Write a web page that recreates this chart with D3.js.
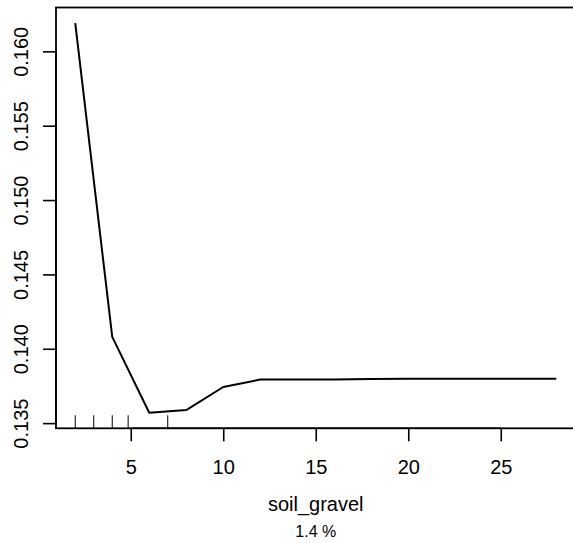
<!DOCTYPE html>
<html>
<head>
<meta charset="utf-8">
<script src="https://cdn.jsdelivr.net/npm/d3@7"></script>
<style>
  html, body { margin: 0; padding: 0; background: #fff; }
  svg { display: block; font-family: "Liberation Sans", Arial, sans-serif; }
</style>
</head>
<body>
<svg id="chart" width="573" height="543"></svg>
<script>
// ---- data ----
const xValues = [2, 4, 6, 8, 10, 12, 14, 16, 18, 20, 22, 24, 26, 28];
const yValues = [0.1619, 0.1408, 0.1357, 0.13588, 0.13743, 0.13793, 0.13793, 0.13793, 0.13797, 0.13798, 0.13798, 0.13798, 0.13798, 0.13798];
const rugValues = [2, 3, 4, 4.86, 7];
const xTicks = [5, 10, 15, 20, 25];
const yTicks = [0.135, 0.140, 0.145, 0.150, 0.155, 0.160];
const xLabel = "soil_gravel";
const subLabel = "1.4 %";

// ---- layout ----
const svg = d3.select("#chart");
const mLeft = 56, mRight = 575.5, mTop = 7.5, mBottom = 428.3;

const xMin = d3.min(xValues), xMax = d3.max(xValues);
const xPad = (xMax - xMin) * 0.04;
const yMin = d3.min(yValues), yMax = d3.max(yValues);
const yPad = (yMax - yMin) * 0.04;

const x = d3.scaleLinear().domain([xMin - xPad, xMax + xPad]).range([mLeft, mRight]);
const y = d3.scaleLinear().domain([yMin - yPad, yMax + yPad]).range([mBottom, mTop]);

// box
svg.append("rect")
  .attr("x", mLeft).attr("y", mTop)
  .attr("width", mRight - mLeft).attr("height", mBottom - mTop)
  .attr("fill", "none").attr("stroke", "#000").attr("stroke-width", 1.8);

// x axis
const xAxis = d3.axisBottom(x).tickValues(xTicks).tickSize(13).tickPadding(6)
  .tickFormat(d3.format("d"));
const gx = svg.append("g").attr("transform", `translate(0,${mBottom})`).call(xAxis);
gx.select(".domain").attr("d", `M${x(xTicks[0])},0H${x(xTicks[xTicks.length-1])}`)
  .attr("stroke-width", 1.6);
gx.selectAll(".tick line").attr("stroke-width", 1.6);
gx.selectAll(".tick text").attr("font-size", 20).attr("font-family", "Liberation Sans, Arial, sans-serif")
  .attr("fill", "#000").attr("dy", null).attr("y", 46);

// y axis
const yAxis = d3.axisLeft(y).tickValues(yTicks).tickSize(13).tickFormat(d3.format(".3f"));
const gy = svg.append("g").attr("transform", `translate(${mLeft},0)`).call(yAxis);
gy.select(".domain").attr("d", `M0,${y(yTicks[0])}V${y(yTicks[yTicks.length-1])}`)
  .attr("stroke-width", 1.6);
gy.selectAll(".tick line").attr("stroke-width", 1.6);
gy.selectAll(".tick text")
  .attr("font-size", 20).attr("font-family", "Liberation Sans, Arial, sans-serif")
  .attr("fill", "#000")
  .attr("x", null).attr("dy", null)
  .attr("text-anchor", "middle")
  .attr("transform", "translate(-28,0) rotate(-90)");

// rug
svg.append("g").selectAll("line").data(rugValues).join("line")
  .attr("x1", d => x(d)).attr("x2", d => x(d))
  .attr("y1", mBottom).attr("y2", mBottom - 13)
  .attr("stroke", "#000").attr("stroke-width", 1);

// line
const line = d3.line().x((d, i) => x(xValues[i])).y(d => y(d));
svg.append("path").datum(yValues)
  .attr("d", line).attr("fill", "none").attr("stroke", "#000")
  .attr("stroke-width", 2).attr("stroke-linejoin", "round");

// labels
const cx = (mLeft + mRight) / 2;
svg.append("text").attr("x", cx).attr("y", 511).attr("text-anchor", "middle")
  .attr("font-size", 20).text(xLabel);
svg.append("text").attr("x", cx).attr("y", 537).attr("text-anchor", "middle")
  .attr("font-size", 16).text(subLabel);
</script>
</body>
</html>
